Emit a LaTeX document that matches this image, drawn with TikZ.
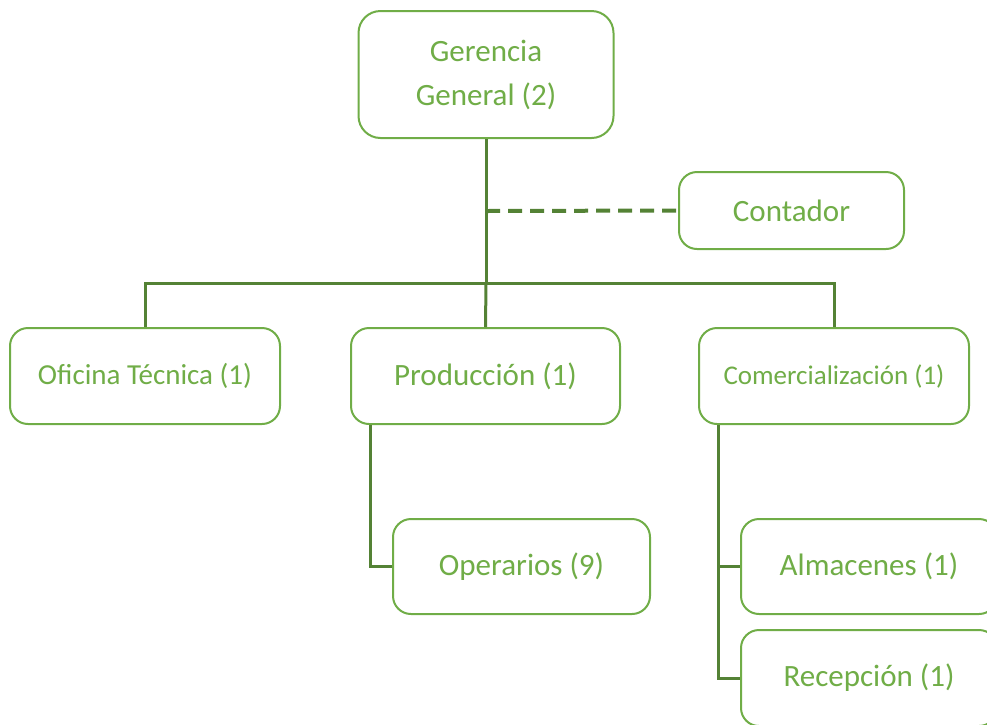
\documentclass[tikz,border=0pt]{standalone}
\usepackage{fontspec}
\setmainfont{Carlito}
\definecolor{boxgreen}{HTML}{70AD47}
\definecolor{linegreen}{HTML}{548235}
\begin{document}
\begin{tikzpicture}[x=1pt,y=-1pt,
  orgbox/.style={draw=boxgreen, line width=2pt, rounded corners=18pt, fill=white,
    text=boxgreen, font=\fontsize{31}{44}\selectfont, align=center, inner sep=0pt},
  conn/.style={draw=linegreen, line width=3pt}]
\useasboundingbox (0,0) rectangle (987,724);
\node[orgbox, minimum width=255pt, minimum height=127pt, rounded corners=22pt] (ger) at (486,74.5) {Gerencia\\General (2)};
\node[orgbox, minimum width=225pt, minimum height=77pt] (con) at (791.5,210.5) {Contador};
\node[orgbox, minimum width=270pt, minimum height=96pt, font=\fontsize{29}{35}\selectfont] (ofi) at (145,376) {Oficina Técnica (1)};
\node[orgbox, minimum width=269pt, minimum height=96pt] (pro) at (485.5,376) {Producción (1)};
\node[orgbox, minimum width=270pt, minimum height=96pt, font=\fontsize{27}{33}\selectfont] (com) at (834,376) {Comercialización (1)};
\node[orgbox, minimum width=257pt, minimum height=95pt] (ope) at (521.5,566.5) {Operarios (9)};
\node[orgbox, minimum width=256pt, minimum height=95pt] (alm) at (869,566.5) {Almacenes (1)};
\node[orgbox, minimum width=256pt, minimum height=96pt] (rec) at (869,678) {Recepción (1)};
\coordinate (bar) at (486,283);
\coordinate (dash) at (486,211);
\draw[conn] (ger.south) -- (bar);
\draw[conn] (bar) -- (pro.north);
\draw[conn] (bar) -| (ofi.north);
\draw[conn] (bar) -| (com.north);
\draw[conn, line width=4pt, dash pattern=on 14pt off 8pt] (dash) -- (con.west);
\draw[conn] (pro.south -| 370,0) |- (ope.west);
\draw[conn] (com.south -| 718,0) |- (alm.west);
\draw[conn] (com.south -| 718,0) |- (rec.west);
\end{tikzpicture}
\end{document}
